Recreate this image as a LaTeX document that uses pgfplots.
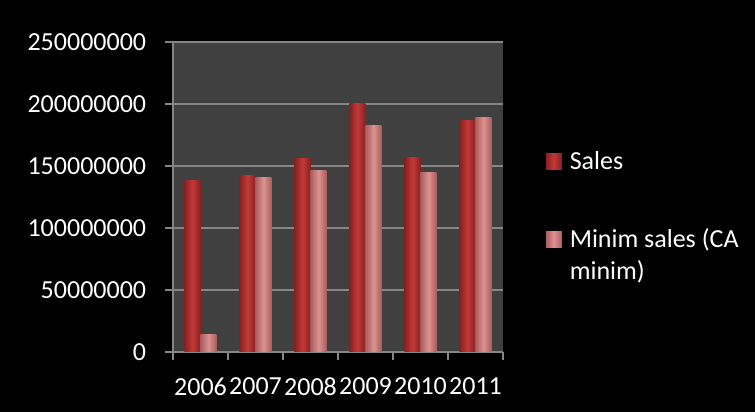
\documentclass[border=0pt]{standalone}
\usepackage{fontspec}
\setmainfont{Carlito}
\usepackage{pgfplots}
\pgfplotsset{compat=1.18}
\definecolor{bgc}{HTML}{404040}
\definecolor{gridc}{HTML}{868686}
\definecolor{salesE}{HTML}{8A1E1E}
\definecolor{salesM}{HTML}{C23A3A}
\definecolor{minE}{HTML}{A85E5E}
\definecolor{minM}{HTML}{DE9292}
\pgfplotsset{
  salesbar/.style={ybar, draw=none, bar width=16bp, bar shift=-8bp,
    left color=salesE, right color=salesE, middle color=salesM},
  minbar/.style={ybar, draw=none, bar width=16bp, bar shift=8bp,
    left color=minE, right color=minE, middle color=minM},
}
\begin{document}
\fontsize{26bp}{32bp}\selectfont
\begin{tikzpicture}
\fill[black] (0,0) rectangle (755bp,412bp);
\begin{axis}[
  at={(173bp,60bp)}, anchor=south west,
  scale only axis, width=330bp, height=310bp,
  xmin=-0.5, xmax=5.5, ymin=0, ymax=250000000,
  scaled y ticks=false,
  axis background/.style={fill=bgc},
  axis lines*=left,
  axis line style={gridc, line width=1.2bp},
  ymajorgrids, grid style={gridc, line width=1.2bp},
  ytick={0,50000000,100000000,150000000,200000000,250000000},
  yticklabels={0,50000000,100000000,150000000,200000000,250000000},
  xtick={-0.5,0.5,...,5.5},
  x tick label as interval,
  xticklabels={2006,2007,2008,2009,2010,2011},
  tick align=outside, major tick length=8bp,
  tick style={gridc, line width=1.2bp},
  ticklabel style={text=white, font=\fontsize{26bp}{32bp}\selectfont},
  xticklabel style={yshift=-9bp},
  yticklabel style={xshift=-10bp},
  legend style={at={(1.12,0.66)}, anchor=north west, draw=none, fill=none,
    text=white, font=\fontsize{26bp}{32bp}\selectfont, row sep=51bp,
    column sep=6bp, cells={anchor=base west}},
  legend image code/.code={\path[#1] (0bp,0bp) rectangle (16bp,16bp);},
]
\addplot[salesbar] coordinates {(0,138500000)};
\addplot[minbar] coordinates {(0,14300000)};
\addplot[salesbar, forget plot] coordinates {(1,142300000)};
\addplot[salesbar, forget plot] coordinates {(2,156200000)};
\addplot[salesbar, forget plot] coordinates {(3,200600000)};
\addplot[salesbar, forget plot] coordinates {(4,156800000)};
\addplot[salesbar, forget plot] coordinates {(5,186900000)};
\addplot[minbar, forget plot] coordinates {(1,140600000)};
\addplot[minbar, forget plot] coordinates {(2,146500000)};
\addplot[minbar, forget plot] coordinates {(3,182600000)};
\addplot[minbar, forget plot] coordinates {(4,144700000)};
\addplot[minbar, forget plot] coordinates {(5,189000000)};
\legend{Sales, {\vtop{\hbox{Minim sales (CA}\hbox{minim)}}}}
\end{axis}
\end{tikzpicture}
\end{document}
